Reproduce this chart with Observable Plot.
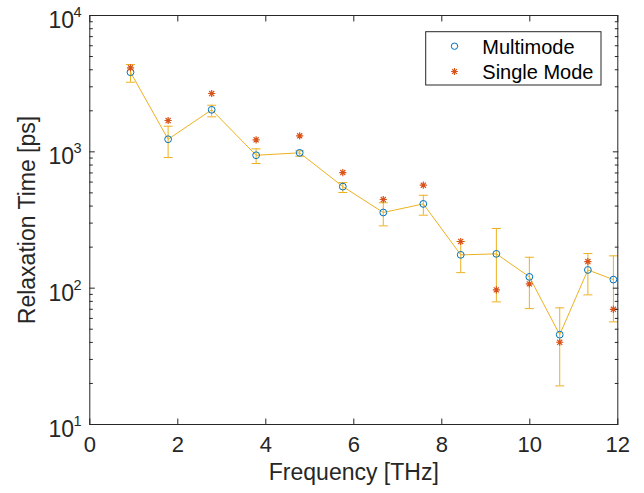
<!DOCTYPE html>
<html><head><meta charset="utf-8">
<script src="https://cdn.jsdelivr.net/npm/d3@7"></script>
<script src="https://cdn.jsdelivr.net/npm/@observablehq/plot@0.6"></script>
<style>
body{margin:0;background:#fff;}
#chart{width:644px;height:493px;}
g[aria-label="ylabel"] text {letter-spacing:1.8px}
g[aria-label="xlabel"] text {letter-spacing:1.4px}
</style></head><body><div id="chart"></div>
<script>
// Data
const freq = [0.925,1.78,2.77,3.78,4.77,5.75,6.67,7.58,8.43,9.24,9.99,10.68,11.32,11.9];
const multimode = [3837,1237,2033,944,983,556,359,415,175.5,178.5,121,45.6,136,115.6];
const errLow = [3240,908,1806,821,928,503,286.5,343,130,79.3,70.8,19.2,89.3,56.6];
const errHigh = [4371,1541,2197,1052,1017,595,423,480,220,274,168.5,71.7,179.4,172.6];
const singleMode = [4133,1697,2678,1225,1311,705,447,569,220,97.2,107.5,40.1,156.7,70];
const xTicks = [0,2,4,6,8,10,12];
const yMajor = [10,100,1000,10000];
const yExp = ["1","2","3","4"];
const yMinor = [20,30,40,50,60,70,80,90,200,300,400,500,600,700,800,900,2000,3000,4000,5000,6000,7000,8000,9000];
const seriesNames = ["Multimode","Single Mode"];

const BLUE = "#0072BD", RED = "#D95319", YEL = "#EDB120", INK = "#262626";
const rows = freq.map((f,i)=>({f, m: multimode[i], lo: errLow[i], hi: errHigh[i], s: singleMode[i]}));

const capSym = {draw(ctx, size){ const r=Math.sqrt(size/Math.PI); ctx.moveTo(-r,0); ctx.lineTo(r,0);} };
const starSym = {draw(ctx, size){ const r=Math.sqrt(size/Math.PI); const d=r*Math.SQRT1_2;
  ctx.moveTo(-r,0);ctx.lineTo(r,0);ctx.moveTo(0,-r);ctx.lineTo(0,r);
  ctx.moveTo(-d,-d);ctx.lineTo(d,d);ctx.moveTo(-d,d);ctx.lineTo(d,-d);} };

const chart = Plot.plot({
  width:644, height:493,
  marginLeft:89.3, marginRight:26.7, marginTop:15, marginBottom:69,
  style:{fontFamily:"'Liberation Sans', Arial, sans-serif", fontSize:"21px", color:INK, background:"#fff"},
  x:{domain:[0,12]},
  y:{type:"log", domain:[10,10000]},
  marks:[
    // data
    Plot.line(rows, {x:"f", y:"m", stroke:YEL, strokeWidth:1}),
    Plot.ruleX(rows, {x:"f", y1:"lo", y2:"hi", stroke:YEL, strokeWidth:1}),
    Plot.dot(rows, {x:"f", y:"lo", symbol:capSym, r:4.5, stroke:YEL, fill:"none", strokeWidth:1}),
    Plot.dot(rows, {x:"f", y:"hi", symbol:capSym, r:4.5, stroke:YEL, fill:"none", strokeWidth:1}),
    Plot.dot(rows, {x:"f", y:"m", symbol:"circle", r:3.4, stroke:BLUE, fill:"none", strokeWidth:1}),
    Plot.dot(rows, {x:"f", y:"s", symbol:starSym, r:3.6, stroke:RED, fill:"none", strokeWidth:1.2}),
    // axes
    Plot.frame({stroke:INK, strokeWidth:1}),
    Plot.axisX(xTicks, {anchor:"bottom", tickSize:0, tickPadding:12, label:null, fontSize:22, fill:INK}),
    Plot.axisX(xTicks, {anchor:"bottom", tickSize:-5.5, fill:"none", label:null, stroke:INK}),
    Plot.axisX(xTicks, {anchor:"top", tickSize:-5.5, fill:"none", label:null, stroke:INK}),
    Plot.axisY(yMajor, {anchor:"left", tickSize:-5.5, fill:"none", label:null, stroke:INK}),
    Plot.axisY(yMajor, {anchor:"right", tickSize:-5.5, fill:"none", label:null, stroke:INK}),
    Plot.axisY(yMinor, {anchor:"left", tickSize:-3.5, fill:"none", label:null, stroke:INK}),
    Plot.axisY(yMinor, {anchor:"right", tickSize:-3.5, fill:"none", label:null, stroke:INK}),
    Plot.text(yMajor, {y:d=>d, frameAnchor:"left", text:()=>"10", textAnchor:"end", lineAnchor:"middle", dx:-15.8, dy:5, fontSize:23, fill:INK}),
    Plot.text(yMajor, {y:d=>d, frameAnchor:"left", text:(d,i)=>yExp[i], textAnchor:"start", lineAnchor:"middle", dx:-16.3, dy:-3, fontSize:14.5, fill:INK}),
    Plot.text(["Relaxation Time [ps]"], {frameAnchor:"left", text:d=>d, rotate:-90, textAnchor:"middle", lineAnchor:"middle", dx:-61.8, fontSize:23, fill:INK, ariaLabel:"ylabel"}),
    Plot.text(["Frequency [THz]"], {frameAnchor:"bottom", text:d=>d, textAnchor:"middle", lineAnchor:"middle", dy:48, fontSize:23, fill:INK, ariaLabel:"xlabel"}),
    // legend
    Plot.rect([0], {fill:"white", stroke:INK, strokeWidth:1, insetLeft:336.4, insetRight:16.3, insetTop:16.7, insetBottom:339}),
    Plot.dot([0], {x:null, y:null, frameAnchor:"top-right", dx:-163.3, dy:30.7, r:3.2, symbol:"circle", stroke:BLUE, fill:"none", strokeWidth:1}),
    Plot.dot([0], {x:null, y:null, frameAnchor:"top-right", dx:-163.3, dy:56, r:3.4, symbol:starSym, stroke:RED, fill:"none", strokeWidth:1.2}),
    Plot.text([seriesNames[0]], {frameAnchor:"top-right", text:d=>d, textAnchor:"start", lineAnchor:"middle", dx:-135.5, dy:31.9, fontSize:20, fill:"#000"}),
    Plot.text([seriesNames[1]], {frameAnchor:"top-right", text:d=>d, textAnchor:"start", lineAnchor:"middle", dx:-135.5, dy:56.9, fontSize:20, fill:"#000"})
  ]
});
document.getElementById("chart").appendChild(chart);
</script></body></html>
